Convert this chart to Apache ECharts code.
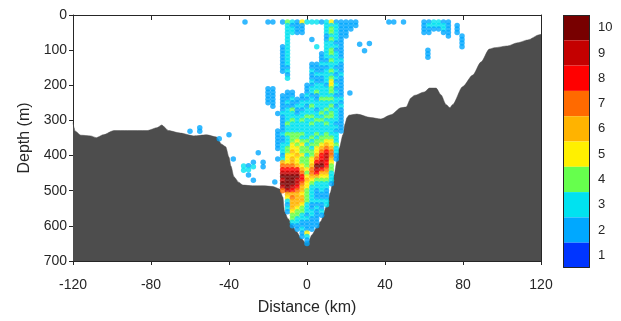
<!DOCTYPE html>
<html><head><meta charset="utf-8">
<script src="https://cdn.jsdelivr.net/npm/echarts@6/dist/echarts.min.js"></script>
<style>html,body{margin:0;padding:0;background:#fff}#c{width:621px;height:321px}</style>
</head><body><div id="c"></div>
<script>
// ---- data ----
const colorLevels = [1, 2, 3, 4, 5, 6, 7, 8, 9, 10];
const levelColors = ['#0035ff', '#00a8ff', '#00e2f0', '#66ff4d', '#fff000', '#ffb300', '#ff6a00', '#ff0000', '#c40000', '#780000'];

const bathyX = [-120, -119.5, -119, -116, -111, -108, -104.5, -99, -92, -82, -77, -74.5, -71, -65, -58, -51.5, -46.5, -43.7, -41.7, -40, -39, -37.5, -35, -32.9, -28, -22.5, -17.5, -14, -12.4, -11.5, -9.8, -7.5, -5.5, -3, -0.8, 0.5, 2.6, 5, 6.9, 10.3, 12, 13.7, 16.5, 18.5, 19.5, 20.5, 21.5, 25.6, 32.8, 37.9, 43, 48.2, 50.8, 53.3, 55, 60.2, 62.8, 66.2, 68.7, 71.3, 73.3, 74.7, 79.8, 85, 89.2, 93.5, 96.1, 102.9, 108, 113.2, 119.2, 120];
const bathyDepth = [306, 320, 330, 342, 344, 349, 341, 329, 329, 329, 321, 313, 329, 336, 344, 341, 347, 368, 375, 405, 430, 460, 476, 484, 486, 486, 488, 495, 518, 560, 579, 598, 616, 635, 648, 647, 625, 605, 588, 542, 505, 458, 380, 340, 310, 292, 285, 282, 292, 296, 284, 264, 262, 236, 229, 219, 208, 208, 227, 255, 264, 255, 204, 171, 134, 97, 93, 88, 79, 71, 56, 55];

// sampled profile columns: one character per depth bin (from depthStart, every depthStep m); '.' = no sample, 'a' = 10
const depthStart = 20;
const depthStep = 10;
const columnX = [-20, -17.5, -15, -12.5, -10, -7.5, -5, -2.5, 0, 2.5, 5, 7.5, 10, 12.5, 15, 17.5, 20, 22.5, 25];
const columnCodes = [
  "2......... .........2 2222...... .......... .......... .......... ....",
  "2......... .........2 22222..... .......... .......... .......... ....",
  ".......... .......... ......2... .222222..2 .......... .......... ....",
  "2......222 22222..... .222223222 2232233323 6789a9a97. .......... ....",
  "4333333333 3332323... 2223233334 3343334455 5789aaaa96 53232..... ....",
  "3233...... .......... 2232243343 3344455656 6789aaa986 766654432. ....",
  "2222...... .......... ..22322333 3344545565 5689a99876 6665443322 ....",
  "5222...... .......... .223323343 3343454454 4567887665 6654433223 22..",
  "3......... ........22 2323233433 3333434434 4454565544 4433323222 5322",
  "3....2.... ..22322323 3233433434 3334343445 5677654333 3322332222 ....",
  "3......3.. ..22232233 4223323343 3343445567 8a98643322 232322222. ....",
  "2........2 2232232233 3343334343 3334456788 9a86543332 232232.... ....",
  "3333223333 3232333323 3343343434 3344567899 8876543322 233....... ....",
  "5344343344 3433434554 4343434433 3334556776 5443332... .......... ....",
  "2333332323 3332323232 3233233332 3233343322 .......... .......... ....",
  "2222222222 2322232222 2232322222 22........ .......... .......... ....",
  "22222..... .......... .......... .......... .......... .......... ....",
  "222....... .......... .......... .......... .......... .......... ....",
  "22........ .......... .......... .......... .......... .......... ...."
];

// isolated samples [distance km, depth m, value]
const extraPoints = [
  [-31.8, 20, 2], [-60, 331, 2], [-55, 321, 2], [-55, 331, 2], [-45, 352, 2], [-40, 341, 2], [-37.8, 410, 2],
  [-32.5, 430, 3], [-32.5, 442, 3], [-30, 429, 2], [-30, 440, 3], [-30, 455, 2], [-27.5, 419, 2], [-27.5, 432, 3],
  [-27.5, 470, 2], [-25, 392, 2], [-22.5, 419, 2], [-22.5, 432, 2], [-16.5, 475, 2],
  [22, 222, 2], [27, 83, 2], [29.5, 102, 2], [32, 81, 2],
  [42, 20, 2], [44.5, 20, 2], [49.5, 20, 2],
  [60, 20, 2], [60, 30, 2], [60, 40, 2], [60, 50, 2],
  [62.5, 20, 2], [62.5, 30, 3], [62.5, 40, 2], [62.5, 50, 2],
  [65, 20, 3], [65, 30, 3], [65, 40, 2],
  [67.5, 20, 3], [67.5, 30, 3], [67.5, 40, 2],
  [70, 20, 2], [70, 30, 3], [70, 40, 3], [70, 50, 2],
  [72.5, 20, 2], [72.5, 30, 2], [72.5, 40, 2], [72.5, 50, 2], [72.5, 60, 2],
  [77, 30, 2], [77, 40, 2], [77, 50, 2],
  [79.5, 60, 2], [79.5, 70, 2], [79.5, 80, 2], [79.5, 90, 2],
  [62, 100, 2], [62, 110, 2], [62, 120, 2]
];

// ---- build ----
const samples = [];
columnX.forEach((x, ci) => {
  const code = columnCodes[ci].replace(/\s/g, '');
  for (let i = 0; i < code.length; i++) {
    const ch = code[i];
    if (ch === '.') continue;
    const v = ch === 'a' ? 10 : parseInt(ch, 10);
    samples.push([x, depthStart + i * depthStep, v]);
  }
});
extraPoints.forEach(p => samples.push(p));

const bathy = bathyX.map((x, i) => [x, bathyDepth[i]]);
const pieces = colorLevels.map((v, i) => ({ gte: v - 0.5, lt: v + 0.5, label: String(v), color: levelColors[i] }));

const txt = '#262626';
const fontFam = 'Liberation Sans, Arial, sans-serif';
const chart = echarts.init(document.getElementById('c'), null, { renderer: 'canvas' });
chart.setOption({
  animation: false,
  backgroundColor: '#ffffff',
  grid: { left: 73, right: 80, top: 15, bottom: 54, containLabel: false },
  xAxis: [{
    type: 'value', min: -120, max: 120, interval: 40, position: 'bottom',
    name: 'Distance (km)', nameLocation: 'middle', nameGap: 39,
    nameTextStyle: { fontSize: 16, color: txt, fontFamily: fontFam },
    axisLine: { show: true, onZero: false, lineStyle: { color: txt, width: 1 } },
    axisTick: { show: true, inside: false, length: 4, lineStyle: { color: txt } },
    axisLabel: { fontSize: 14, color: txt, margin: 17, fontFamily: fontFam },
    splitLine: { show: false }
  }, {
    type: 'value', min: -120, max: 120, interval: 40, position: 'top',
    axisLine: { show: true, onZero: false, lineStyle: { color: txt, width: 1 } },
    axisTick: { show: true, inside: true, length: 5, lineStyle: { color: txt } },
    axisLabel: { show: false }, splitLine: { show: false }
  }],
  yAxis: [{
    type: 'value', min: 0, max: 700, interval: 100, inverse: true, position: 'left',
    name: 'Depth (m)', nameLocation: 'middle', nameGap: 40, nameRotate: 90,
    nameTextStyle: { fontSize: 16, color: txt, fontFamily: fontFam },
    axisLine: { show: true, onZero: false, lineStyle: { color: txt, width: 1 } },
    axisTick: { show: true, inside: false, length: 4, lineStyle: { color: txt } },
    axisLabel: { fontSize: 14, color: txt, margin: 6, fontFamily: fontFam },
    splitLine: { show: false }
  }, {
    type: 'value', min: 0, max: 700, interval: 100, inverse: true, position: 'right',
    axisLine: { show: true, onZero: false, lineStyle: { color: txt, width: 1 } },
    axisTick: { show: true, inside: true, length: 5, lineStyle: { color: txt } },
    axisLabel: { show: false }, splitLine: { show: false }
  }],
  visualMap: {
    type: 'piecewise', seriesIndex: 1, dimension: 2, pieces: pieces,
    orient: 'vertical', left: 563, top: 15, align: 'left',
    itemWidth: 27, itemHeight: 25.3, itemGap: 0, itemSymbol: 'rect',
    textGap: 8, selectedMode: false, hoverLink: false, padding: 0,
    textStyle: { fontSize: 13, color: txt, fontFamily: fontFam }
  },
  graphic: [{
    type: 'rect', x: 563.5, y: 15.5, silent: true, z: 100,
    shape: { x: 0, y: 0, width: 26, height: 252 },
    style: { fill: 'none', stroke: txt, lineWidth: 1 }
  }],
  series: [{
    type: 'line', data: bathy, xAxisIndex: 0, yAxisIndex: 0,
    symbol: 'none', smooth: 0.25, smoothMonotone: 'x', z: 2,
    lineStyle: { color: '#4d4d4d', width: 0.5 },
    areaStyle: { color: '#4d4d4d', opacity: 1, origin: 'end' }
  }, {
    type: 'scatter', data: samples, xAxisIndex: 0, yAxisIndex: 0,
    symbol: 'circle', symbolSize: 5.5, z: 3
  }]
});
</script>
</body></html>
